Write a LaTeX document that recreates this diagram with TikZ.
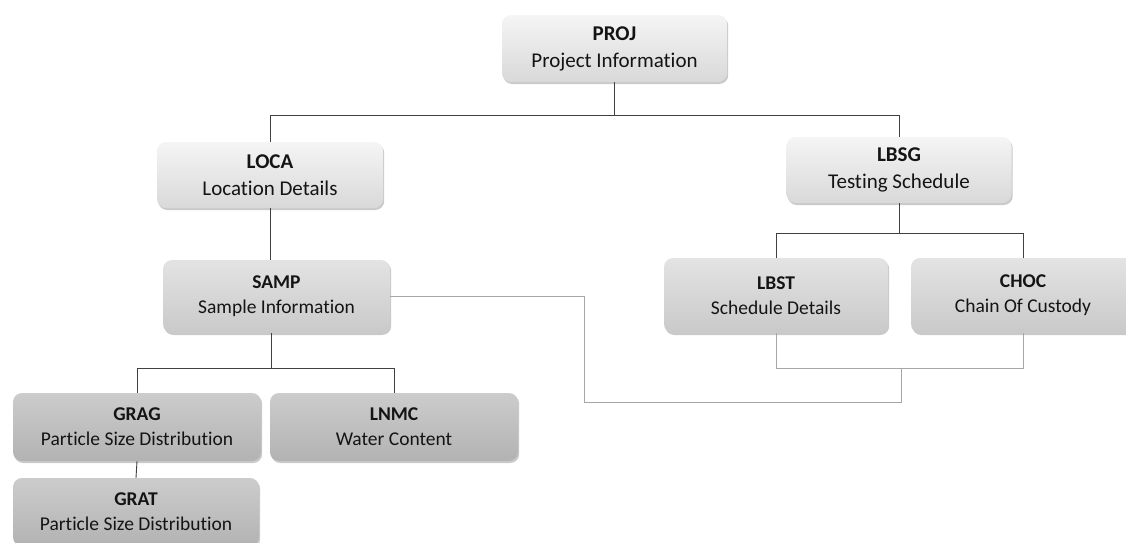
\documentclass[tikz,border=0pt]{standalone}
\usepackage{fontspec}
\setmainfont{Carlito}[Ligatures=NoCommon]
\usetikzlibrary{shadows}
\definecolor{txt}{HTML}{141414}
\definecolor{darkline}{HTML}{404040}
\definecolor{lightline}{HTML}{A6A6A6}
\tikzset{
  boxbase/.style={rectangle, rounded corners=9pt, align=center, text=txt, inner sep=0pt,
    drop shadow={shadow xshift=1.2pt, shadow yshift=-2pt, opacity=0.35, fill=black!60}},
  lvlone/.style={boxbase, top color=white!96!black, bottom color=white!85!black,
    font=\fontsize{21}{27}\selectfont},
  lvltwo/.style={boxbase, top color=white!89!black, bottom color=white!79!black,
    font=\fontsize{19.5}{25}\selectfont},
  lvlthree/.style={boxbase, top color=white!80!black, bottom color=white!70!black,
    font=\fontsize{19.5}{25}\selectfont},
  darkconn/.style={draw=darkline, line width=0.9pt},
  lightconn/.style={draw=lightline, line width=0.9pt}
}
\begin{document}
\begin{tikzpicture}[x=1pt,y=-1pt]
\useasboundingbox (0,0) rectangle (1126,542);
\node[lvlone, minimum width=225pt, minimum height=67pt] (proj) at (614.5,48.5) {\textbf{PROJ}\\Project Information};
\node[lvlone, minimum width=226pt, minimum height=66pt] (loca) at (270,175) {\textbf{LOCA}\\Location Details};
\node[lvlone, minimum width=225pt, minimum height=66pt] (lbsg) at (899,170) {\textbf{LBSG}\\Testing Schedule};
\node[lvltwo, minimum width=227pt, minimum height=73pt] (samp) at (276.5,296.5) {\textbf{SAMP}\\Sample Information};
\node[lvltwo, minimum width=224pt, minimum height=75pt] (lbst) at (776,295.5) {\textbf{LBST}\\Schedule Details};
\node[lvltwo, minimum width=224pt, minimum height=75pt] (choc) at (1023,295.5) {\textbf{CHOC}\\Chain Of Custody};
\node[lvlthree, minimum width=248pt, minimum height=68pt] (grag) at (137,427) {\textbf{GRAG}\\Particle Size Distribution};
\node[lvlthree, minimum width=248pt, minimum height=68pt] (lnmc) at (394,427) {\textbf{LNMC}\\Water Content};
\node[lvlthree, minimum width=246pt, minimum height=68pt] (grat) at (136,512) {\textbf{GRAT}\\Particle Size Distribution};

\coordinate (j1) at (614.5,115);
\coordinate (j2) at (899,233);
\coordinate (j3) at (271,368);
\coordinate (j4) at (901,368);
\coordinate (k1) at (584,402);

\draw[darkconn] (proj.south) -- (j1) -| (loca.north);
\draw[darkconn] (j1) -| (lbsg.north);
\draw[darkconn] (loca.south) -- (loca.south |- samp.north);
\draw[darkconn] (lbsg.south) -- (j2) -| (lbst.north);
\draw[darkconn] (j2) -| (choc.north);
\draw[darkconn] (j3 |- samp.south) -- (j3) -| (grag.north);
\draw[darkconn] (j3) -| (lnmc.north);
\draw[darkconn] (grag.south) -- (grat.north);
\draw[lightconn] (lbst.south) |- (j4) -| (choc.south);
\draw[lightconn] (samp.east) -- (k1 |- samp.east) -- (k1) -| (j4);
\end{tikzpicture}
\end{document}
